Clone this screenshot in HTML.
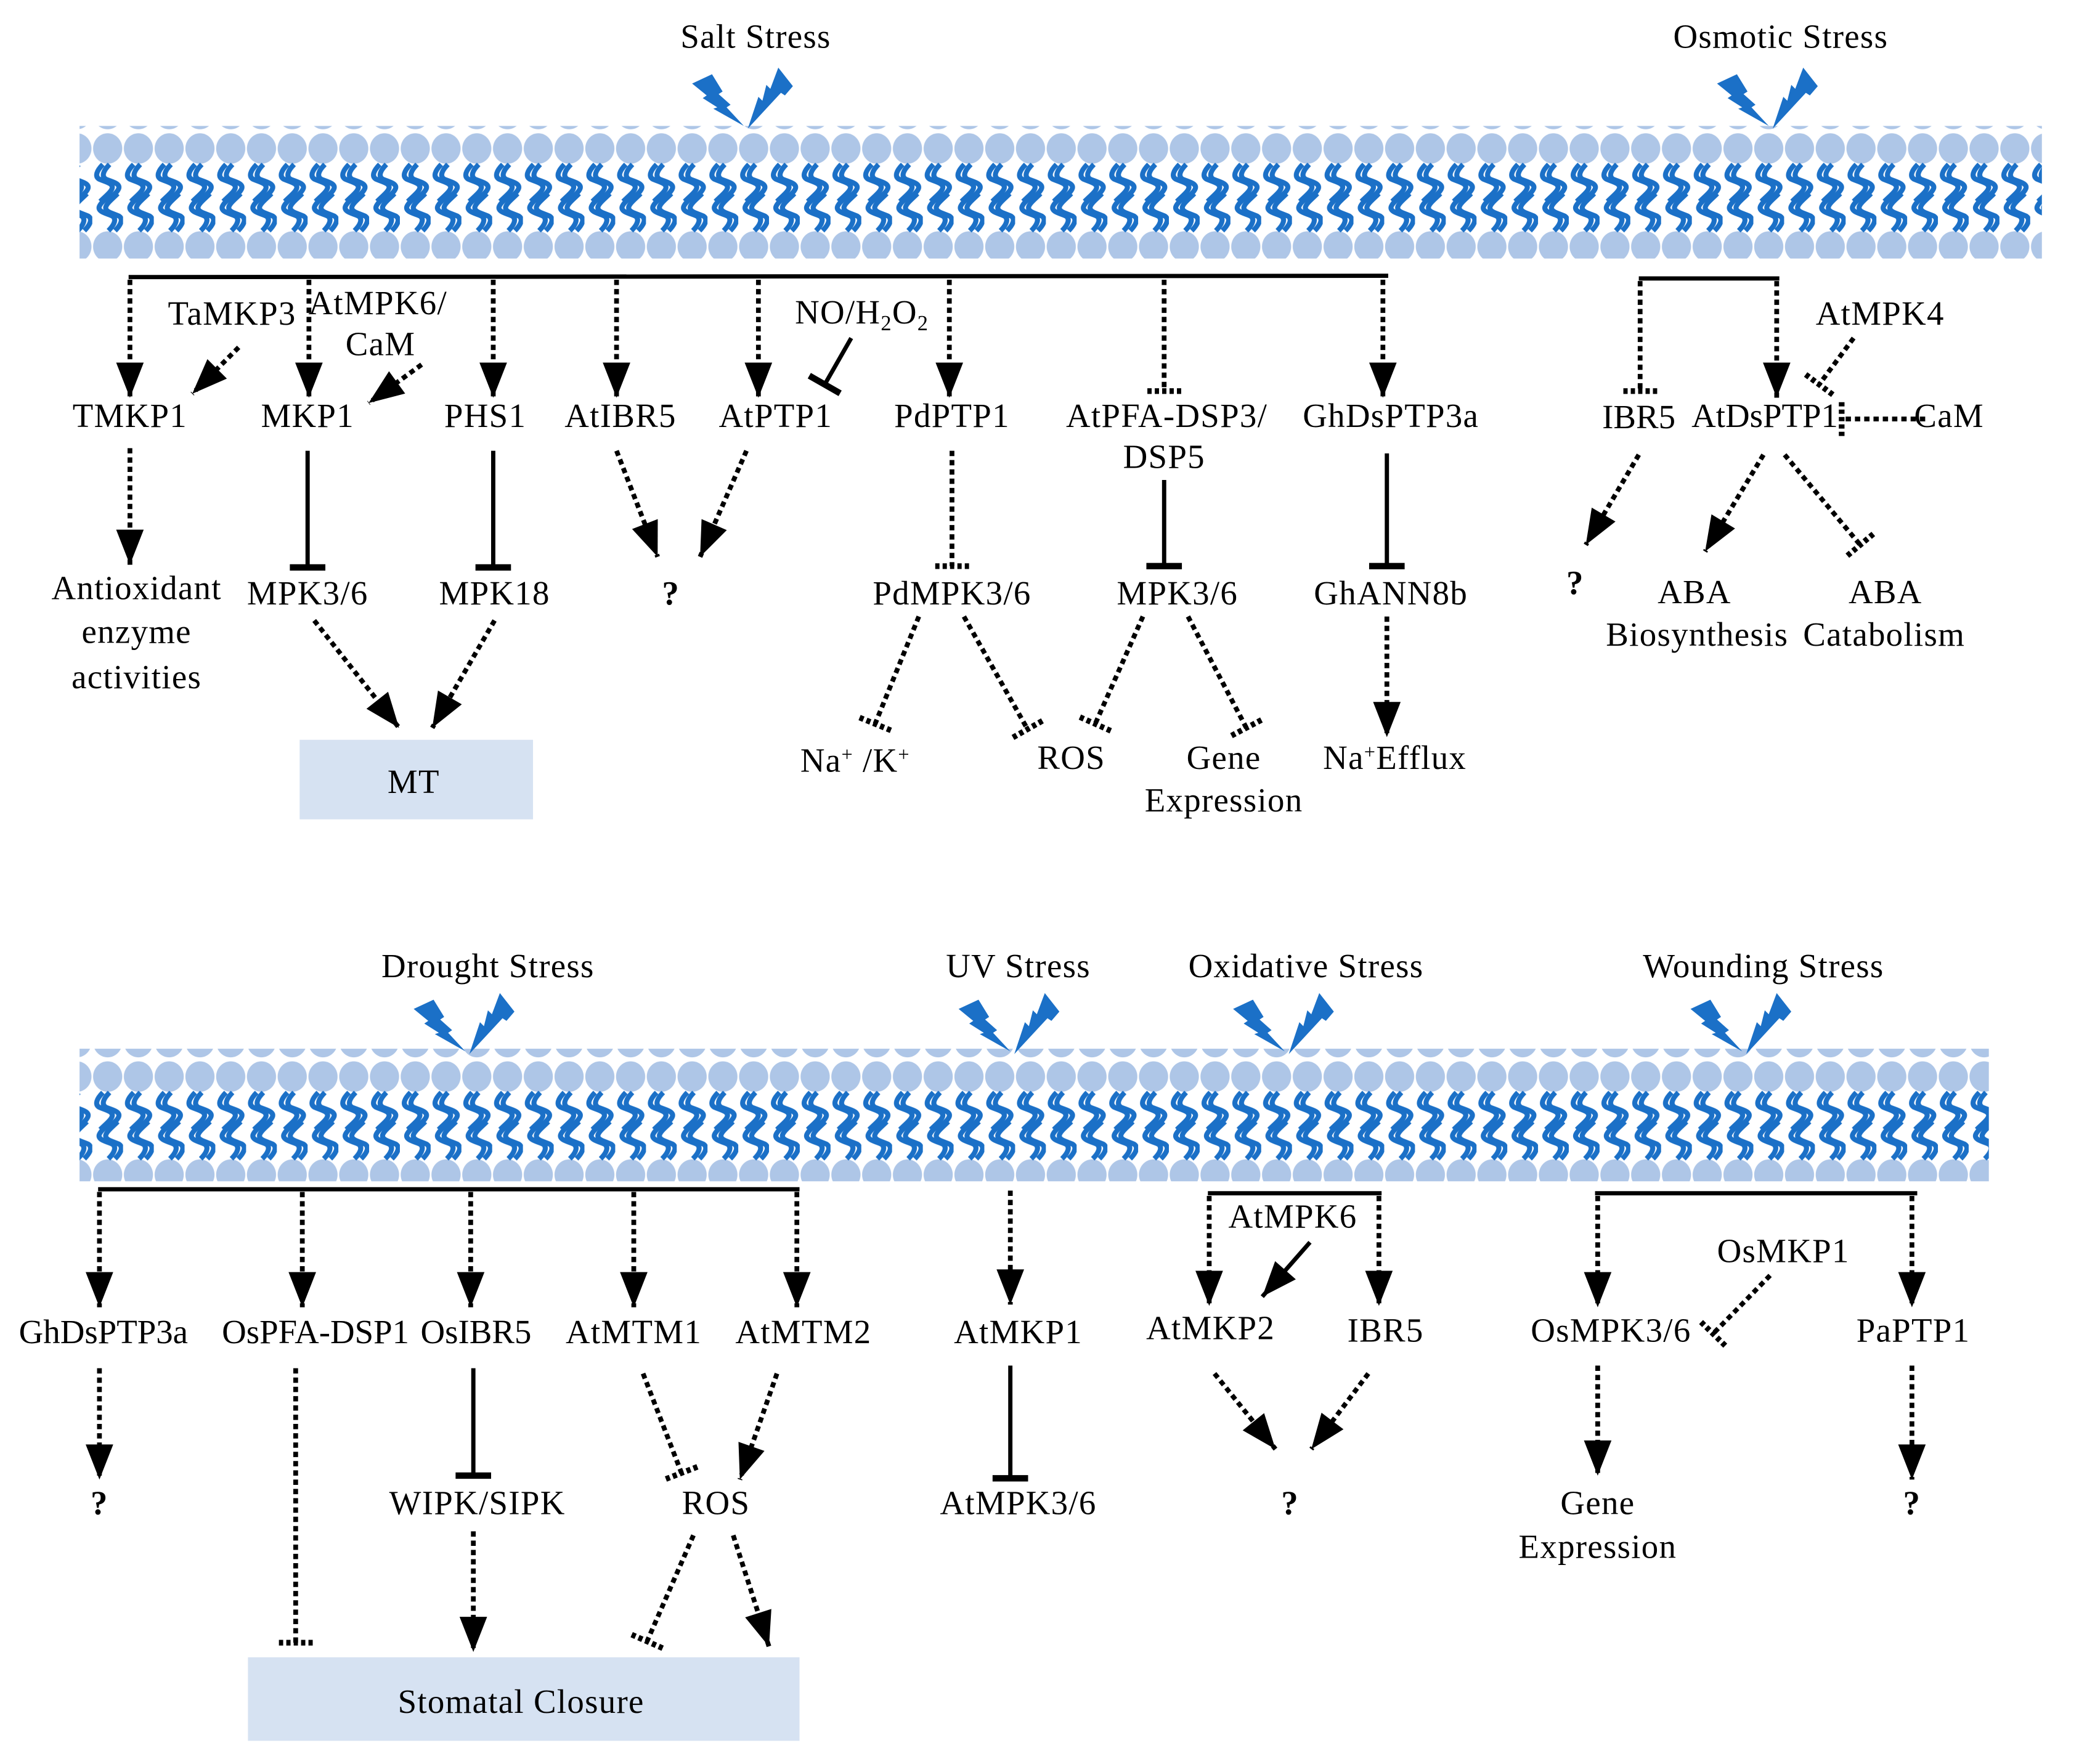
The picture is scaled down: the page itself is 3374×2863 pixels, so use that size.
<!DOCTYPE html>
<html><head><meta charset="utf-8"><style>
html,body{margin:0;padding:0;background:#fff;}
svg{display:block;}
text{font-family:"Liberation Serif",serif;font-size:25.5px;letter-spacing:0.6px;fill:#000;text-anchor:middle;}
.b{font-weight:bold;}
.n{letter-spacing:0;}
.s{stroke:#000;stroke-width:3.2;fill:none;}
.d{stroke:#000;stroke-width:3.6;fill:none;stroke-dasharray:4 3;}
</style></head><body>
<svg width="3374" height="2863" viewBox="0 0 1568 1330.5" preserveAspectRatio="none" xmlns="http://www.w3.org/2000/svg">
<defs>
<marker id="ar" markerUnits="userSpaceOnUse" markerWidth="30" markerHeight="30" viewBox="-24 -10 26 20" refX="0" refY="0" orient="auto">
<path d="M-23,-9 L0,0 L-23,9 Z" fill="#000"/></marker>
<marker id="tb" markerUnits="userSpaceOnUse" markerWidth="30" markerHeight="30" viewBox="-4 -14 8 28" refX="0" refY="0" orient="auto">
<line x1="0" y1="-12.5" x2="0" y2="12.5" stroke="#000" stroke-width="4.5"/></marker>
<marker id="db" markerUnits="userSpaceOnUse" markerWidth="30" markerHeight="30" viewBox="-4 -14 8 28" refX="0" refY="0" orient="auto">
<line x1="0" y1="-12" x2="0" y2="12" stroke="#000" stroke-width="4" stroke-dasharray="3 2.2"/></marker>
<pattern id="mem" patternUnits="userSpaceOnUse" width="23.2" height="100">
<ellipse cx="11.6" cy="12" rx="11" ry="11.5" fill="#aec6e7"/>
<ellipse cx="11.6" cy="86" rx="11" ry="11.5" fill="#aec6e7"/>
<g stroke="#1b70c7" stroke-width="3.8" fill="none">
<path d="M8,24 C3,29 2,33 5,35 C9,37 16,38 15,42 C14,45 10,48 6,52"/>
<path d="M13,24 C8,29 7,33 10,35 C14,37 21,38 20,42 C19,45 15,48 11,52"/>
<g transform="rotate(180 11.6 49) translate(-2 0)">
<path d="M8,24 C3,29 2,33 5,35 C9,37 16,38 15,42 C14,45 10,48 6,52"/>
<path d="M13,24 C8,29 7,33 10,35 C14,37 21,38 20,42 C19,45 15,48 11,52"/>
</g></g>
</pattern>
<g id="bolt" fill="#1b70c7">
<polygon points="522,63 537,56 545,69 542,71 551,79 548,81 561,95 538,82 541,81 530,74 533,72"/>
<polygon points="587,51 598,65 592,72 589,70 564,97 572,73 575,76 578,64 581,67"/>
</g>
</defs>

<rect x="60" y="95" width="1480" height="100" fill="url(#mem)"/>
<rect x="60" y="791" width="1440" height="100" fill="url(#mem)"/>

<use href="#bolt"/>
<use href="#bolt" transform="translate(773,0)"/>
<use href="#bolt" transform="translate(-210,698)"/>
<use href="#bolt" transform="translate(201,698)"/>
<use href="#bolt" transform="translate(408,698)"/>
<use href="#bolt" transform="translate(753,698)"/>

<text x="570" y="36">Salt Stress</text>
<text x="1343" y="36">Osmotic Stress</text>
<text x="368" y="737">Drought Stress</text>
<text x="768" y="737">UV Stress</text>
<text x="985" y="737">Oxidative Stress</text>
<text x="1330" y="737">Wounding Stress</text>

<!-- SALT -->
<line class="s" x1="97" y1="209" x2="1047" y2="208" stroke-width="3.6"/>
<line class="d" x1="98" y1="211" x2="98" y2="300" marker-end="url(#ar)"/>
<line class="d" x1="233" y1="211" x2="233" y2="300" marker-end="url(#ar)"/>
<line class="d" x1="372" y1="211" x2="372" y2="300" marker-end="url(#ar)"/>
<line class="d" x1="465" y1="211" x2="465" y2="300" marker-end="url(#ar)"/>
<line class="d" x1="572" y1="211" x2="572" y2="300" marker-end="url(#ar)"/>
<line class="d" x1="716" y1="211" x2="716" y2="300" marker-end="url(#ar)"/>
<line class="d" x1="878" y1="211" x2="878" y2="295" marker-end="url(#db)"/>
<line class="d" x1="1043" y1="211" x2="1043" y2="300" marker-end="url(#ar)"/>

<text x="175" y="245">TaMKP3</text>
<text x="285" y="237">AtMPK6/</text>
<text x="287" y="268">CaM</text>
<line class="d" x1="180" y1="262" x2="145" y2="297" marker-end="url(#ar)"/>
<line class="d" x1="318" y1="275" x2="278" y2="304" marker-end="url(#ar)"/>
<text x="650" y="244">NO/H<tspan font-size="16" dy="5">2</tspan><tspan dy="-5">O</tspan><tspan font-size="16" dy="5">2</tspan></text>
<line class="s" x1="642" y1="255" x2="622" y2="290" stroke-width="3.6" marker-end="url(#tb)"/>

<text x="98" y="322">TMKP1</text>
<text x="232" y="322">MKP1</text>
<text x="366" y="322">PHS1</text>
<text x="468" y="322">AtIBR5</text>
<text x="585" y="322">AtPTP1</text>
<text x="718" y="322">PdPTP1</text>
<text x="880" y="322">AtPFA-DSP3/</text>
<text x="878" y="353">DSP5</text>
<text x="1049" y="322">GhDsPTP3a</text>

<line class="d" x1="98" y1="338" x2="98" y2="426" marker-end="url(#ar)"/>
<line class="s" x1="232" y1="340" x2="232" y2="428" stroke-width="3.6" marker-end="url(#tb)"/>
<line class="s" x1="372" y1="340" x2="372" y2="428" stroke-width="3.6" marker-end="url(#tb)"/>
<line class="d" x1="465" y1="340" x2="496" y2="420" marker-end="url(#ar)"/>
<line class="d" x1="563" y1="340" x2="528" y2="420" marker-end="url(#ar)"/>
<line class="d" x1="718" y1="340" x2="718" y2="427" marker-end="url(#db)"/>
<line class="s" x1="878" y1="362" x2="878" y2="427" stroke-width="3.6" marker-end="url(#tb)"/>
<line class="s" x1="1046" y1="342" x2="1046" y2="427" stroke-width="3.6" marker-end="url(#tb)"/>

<text x="103" y="452">Antioxidant</text>
<text x="103" y="485">enzyme</text>
<text x="103" y="519">activities</text>
<text x="232" y="456">MPK3/6</text>
<text x="373" y="456">MPK18</text>
<text x="506" y="456" class="b">?</text>
<text x="718" y="456">PdMPK3/6</text>
<text x="888" y="456">MPK3/6</text>
<text x="1049" y="456">GhANN8b</text>

<line class="d" x1="237" y1="468" x2="301" y2="549" marker-end="url(#ar)"/>
<line class="d" x1="373" y1="468" x2="326" y2="549" marker-end="url(#ar)"/>
<rect x="226" y="558" width="176" height="60" fill="#d6e2f2"/>
<text x="312" y="598">MT</text>

<line class="d" x1="693" y1="465" x2="660" y2="546" marker-end="url(#db)"/>
<line class="d" x1="727" y1="465" x2="775" y2="550" marker-end="url(#db)"/>
<line class="d" x1="862" y1="465" x2="826" y2="546" marker-end="url(#db)"/>
<line class="d" x1="896" y1="465" x2="940" y2="549" marker-end="url(#db)"/>
<line class="d" x1="1046" y1="465" x2="1046" y2="556" marker-end="url(#ar)"/>

<text x="645" y="582">Na<tspan font-size="15" dy="-8">+</tspan><tspan dy="8"> /K</tspan><tspan font-size="15" dy="-8">+</tspan></text>
<text x="808" y="580">ROS</text>
<text x="923" y="580">Gene</text>
<text x="923" y="612">Expression</text>
<text x="1052" y="580">Na<tspan font-size="15" dy="-8">+</tspan><tspan dy="8">Efflux</tspan></text>

<!-- OSMOTIC -->
<line class="s" x1="1236" y1="210" x2="1342" y2="210" stroke-width="3.6"/>
<line class="d" x1="1237" y1="212" x2="1237" y2="295" marker-end="url(#db)"/>
<line class="d" x1="1340" y1="212" x2="1340" y2="300" marker-end="url(#ar)"/>
<text x="1418" y="245">AtMPK4</text>
<line class="d" x1="1398" y1="255" x2="1372" y2="290" marker-end="url(#db)"/>
<text x="1236" y="323" class="n">IBR5</text>
<text x="1331" y="322" class="n">AtDsPTP1</text>
<text x="1470" y="322">CaM</text>
<line class="d" x1="1452" y1="316" x2="1389" y2="316" marker-end="url(#db)"/>
<line class="d" x1="1236" y1="343" x2="1196" y2="411" marker-end="url(#ar)"/>
<line class="d" x1="1330" y1="343" x2="1286" y2="416" marker-end="url(#ar)"/>
<line class="d" x1="1346" y1="343" x2="1403" y2="411" marker-end="url(#db)"/>
<text x="1188" y="448" class="b">?</text>
<text x="1278" y="455">ABA</text>
<text x="1280" y="487">Biosynthesis</text>
<text x="1422" y="455">ABA</text>
<text x="1421" y="487">Catabolism</text>

<!-- DROUGHT -->
<line class="s" x1="74" y1="897" x2="603" y2="897" stroke-width="3.6"/>
<line class="d" x1="75" y1="899" x2="75" y2="986" marker-end="url(#ar)"/>
<line class="d" x1="228" y1="899" x2="228" y2="986" marker-end="url(#ar)"/>
<line class="d" x1="355" y1="899" x2="355" y2="986" marker-end="url(#ar)"/>
<line class="d" x1="478" y1="899" x2="478" y2="986" marker-end="url(#ar)"/>
<line class="d" x1="601" y1="899" x2="601" y2="986" marker-end="url(#ar)"/>
<text x="78" y="1013" class="n">GhDsPTP3a</text>
<text x="238" y="1013" class="n">OsPFA-DSP1</text>
<text x="359" y="1013" class="n">OsIBR5</text>
<text x="478" y="1013">AtMTM1</text>
<text x="606" y="1013">AtMTM2</text>

<line class="d" x1="75" y1="1032" x2="75" y2="1116" marker-end="url(#ar)"/>
<text x="75" y="1142" class="b">?</text>
<line class="d" x1="223" y1="1032" x2="223" y2="1239" marker-end="url(#db)"/>
<line class="s" x1="357" y1="1032" x2="357" y2="1113" stroke-width="3.6" marker-end="url(#tb)"/>
<text x="360" y="1142">WIPK/SIPK</text>
<line class="d" x1="357" y1="1155" x2="357" y2="1246" marker-end="url(#ar)"/>
<line class="d" x1="485" y1="1036" x2="514" y2="1111" marker-end="url(#db)"/>
<line class="d" x1="586" y1="1036" x2="558" y2="1116" marker-end="url(#ar)"/>
<text x="540" y="1142">ROS</text>
<line class="d" x1="523" y1="1158" x2="488" y2="1238" marker-end="url(#db)"/>
<line class="d" x1="553" y1="1158" x2="580" y2="1242" marker-end="url(#ar)"/>
<rect x="187" y="1250" width="416" height="63" fill="#d6e2f2"/>
<text x="393" y="1292">Stomatal Closure</text>

<!-- UV -->
<line class="d" x1="762" y1="898" x2="762" y2="984" marker-end="url(#ar)"/>
<text x="768" y="1013">AtMKP1</text>
<line class="s" x1="762" y1="1030" x2="762" y2="1115" stroke-width="3.6" marker-end="url(#tb)"/>
<text x="768" y="1142">AtMPK3/6</text>

<!-- OXIDATIVE -->
<line class="s" x1="911" y1="900" x2="1042" y2="900" stroke-width="3.6"/>
<line class="d" x1="912" y1="902" x2="912" y2="985" marker-end="url(#ar)"/>
<line class="d" x1="1040" y1="902" x2="1040" y2="985" marker-end="url(#ar)"/>
<text x="975" y="926">AtMPK6</text>
<line class="s" x1="988" y1="937" x2="952" y2="978" stroke-width="3.6" marker-end="url(#ar)"/>
<text x="913" y="1010">AtMKP2</text>
<text x="1045" y="1012">IBR5</text>
<line class="d" x1="916" y1="1036" x2="962" y2="1093" marker-end="url(#ar)"/>
<line class="d" x1="1032" y1="1036" x2="989" y2="1093" marker-end="url(#ar)"/>
<text x="973" y="1142" class="b">?</text>

<!-- WOUNDING -->
<line class="s" x1="1203" y1="900" x2="1446" y2="900" stroke-width="3.6"/>
<line class="d" x1="1205" y1="902" x2="1205" y2="986" marker-end="url(#ar)"/>
<line class="d" x1="1442" y1="902" x2="1442" y2="986" marker-end="url(#ar)"/>
<text x="1345" y="952">OsMKP1</text>
<line class="d" x1="1335" y1="962" x2="1292" y2="1006" marker-end="url(#db)"/>
<text x="1215" y="1012">OsMPK3/6</text>
<text x="1443" y="1012">PaPTP1</text>
<line class="d" x1="1205" y1="1030" x2="1205" y2="1113" marker-end="url(#ar)"/>
<line class="d" x1="1442" y1="1030" x2="1442" y2="1116" marker-end="url(#ar)"/>
<text x="1205" y="1142">Gene</text>
<text x="1205" y="1175">Expression</text>
<text x="1442" y="1142" class="b">?</text>
</svg>
</body></html>
